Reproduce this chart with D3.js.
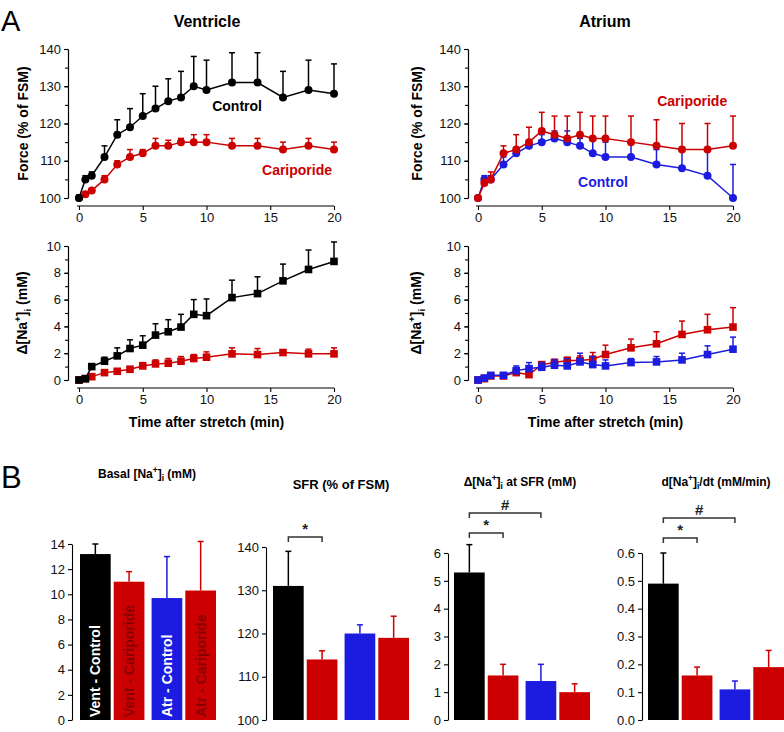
<!DOCTYPE html>
<html><head><meta charset="utf-8">
<script src="https://cdn.jsdelivr.net/npm/d3@7"></script>
<style>
body{margin:0;background:#fff}
svg{display:block}
text{font-family:"Liberation Sans",Arial,Helvetica,sans-serif}
</style>
</head><body>
<svg id="c" width="784" height="732"></svg>
<script>
// ---------------- DATA ----------------
const time = [0,0.5,1,2,3,4,5,6,7,8,9,10,12,14,16,18,20];

const ventForceControl    = [100,105,106,111,117,119,122,124,126,127,130,129,131,131,127,129,128];
const ventForceControlSem = [0.8,1,1,3,4,5,6,6,6,7,8,8,8,8,7,8,8];
const ventForceCarip      = [100,101,102,105,109,111,112,114,114,115,115,115,114,114,113,114,113];
const ventForceCaripSem   = [0.5,0.5,0.5,1,1,2,1,2,1.5,1,2,2,2,2,2,2,2];

const atrForceControl     = [100,105,105,109,112,114,115,116,115,114,112,111,111,109,108,106,100];
const atrForceControlSem  = [0,1,1,2,1.5,1,2,2,3,2,4,4,4,4,5.5,7,9];
const atrForceCarip       = [100,104,105,112,113,115,118,117,116,117,116,116,115,114,113,113,114];
const atrForceCaripSem    = [0,1,2,2,4,4,5,5,6,6,6,6,7,7,7,7,8];

const ventNaControl       = [0,0.1,1.0,1.4,1.8,2.35,2.6,3.35,3.6,3.95,4.9,4.8,6.15,6.45,7.4,8.25,8.85];
const ventNaControlSem    = [0,0.05,0.1,0.3,0.6,0.65,0.7,0.85,0.9,0.95,1.1,1.25,1.3,1.25,1.25,1.45,1.45];
const ventNaCarip         = [0,0.1,0.25,0.55,0.65,0.8,1.05,1.2,1.25,1.4,1.6,1.7,1.95,1.9,2.05,1.95,1.95];
const ventNaCaripSem      = [0,0.05,0.1,0.1,0.15,0.2,0.25,0.3,0.35,0.35,0.3,0.4,0.45,0.45,0.2,0.35,0.45];

const atrNaControl        = [0,0.15,0.35,0.35,0.7,0.85,0.95,1.1,1.05,1.35,1.15,1.05,1.3,1.35,1.5,1.9,2.3];
const atrNaControlSem     = [0,0.05,0.1,0.05,0.35,0.45,0.35,0.4,0.55,0.65,0.6,0.45,0.3,0.4,0.5,0.65,0.9];
const atrNaCarip          = [0,0.1,0.3,0.3,0.55,0.4,1.15,1.3,1.45,1.45,1.55,1.9,2.4,2.7,3.4,3.75,3.95];
const atrNaCaripSem       = [0,0.05,0.1,0.1,0.25,0.1,0.2,0.25,0.25,0.35,0.5,0.7,0.65,0.9,1.0,1.15,1.45];

const barGroups   = ["Vent","Atr"];
const barConds    = ["Control","Cariporide"];
const barLabels   = ["Vent - Control","Vent - Cariporide","Atr - Control","Atr - Cariporide"];
const basalNa     = [13.2, 11.0, 9.7, 10.3];
const basalNaSem  = [0.8, 0.8, 3.3, 3.9];
const sfr         = [131, 114, 120, 119];
const sfrSem      = [8, 2, 2, 5];
const naAtSfr     = [5.3, 1.6, 1.4, 1.0];
const naAtSfrSem  = [1.0, 0.4, 0.6, 0.3];
const dNaDt       = [0.49, 0.16, 0.11, 0.19];
const dNaDtSem    = [0.11, 0.03, 0.03, 0.06];

const xTicks      = [0,5,10,15,20];

// ---------------- STYLE ----------------
const BLACK = "#000000", RED = "#cc0000", BLUE = "#1c1ce0", DARKRED = "#8a0000";
const svg = d3.select("#c");

function rich(sel, parts, size){
  const t = sel.append("text").attr("font-size", size);
  let shift = 0;
  parts.forEach(p => {
    const target = p.sup ? -size*0.4 : p.sub ? size*0.28 : 0;
    const ts = t.append("tspan").text(p.t).attr("dy", target - shift);
    if (p.sup || p.sub) ts.attr("font-size", size*0.7);
    shift = target;
  });
  return t;
}

function styleAxis(g){
  g.selectAll("path.domain").attr("stroke", "#000").attr("stroke-width", 1.1);
  g.selectAll(".tick line").attr("stroke", "#000").attr("stroke-width", 1.1);
  g.selectAll(".tick text").attr("font-size", 13).attr("fill", "#111")
    .attr("font-family", '"Liberation Sans",Arial,sans-serif');
}

function linePanel(o){
  const x = d3.scaleLinear().domain([0,20]).range([o.x0, o.x1]);
  const y = d3.scaleLinear().domain(o.dom).range([o.yBot, o.yTop]);

  const gm = svg.append("g").attr("transform", `translate(${o.axisX},0)`)
    .call(d3.axisLeft(y).tickValues(d3.range(o.dom[0], o.dom[1]+1e-9, o.minor)).tickSize(3).tickSizeOuter(0).tickFormat(""));
  styleAxis(gm);
  const gy = svg.append("g").attr("transform", `translate(${o.axisX},0)`)
    .call(d3.axisLeft(y).tickValues(d3.range(o.dom[0], o.dom[1]+1e-9, o.major)).tickSize(4).tickSizeOuter(0));
  styleAxis(gy);
  const gx = svg.append("g").attr("transform", `translate(0,${o.axisY})`)
    .call(d3.axisBottom(x).tickValues(xTicks).tickSize(4).tickSizeOuter(0));
  styleAxis(gx);
  gx.select("path.domain").attr("d", `M${o.x0-2},0H${o.x1}`);

  o.series.forEach(s => {
    const g = svg.append("g");
    const pts = time.map((t,i)=>({t, v:s.vals[i], e:s.sem[i]}));
    pts.forEach(p => {
      if (p.e <= 0) return;
      const cx = x(p.t), y0 = y(p.v), y1 = y(p.v + p.e);
      g.append("line").attr("x1",cx).attr("x2",cx).attr("y1",y0).attr("y2",y1)
        .attr("stroke", s.color).attr("stroke-width", 1.5);
      g.append("line").attr("x1",cx-3).attr("x2",cx+3).attr("y1",y1).attr("y2",y1)
        .attr("stroke", s.color).attr("stroke-width", 1.5);
    });
    g.append("path").datum(pts)
      .attr("d", d3.line().x(d=>x(d.t)).y(d=>y(d.v)))
      .attr("fill","none").attr("stroke", s.color).attr("stroke-width", 1.5);
    if (s.shape === "circle") {
      g.selectAll("circle").data(pts).join("circle")
        .attr("cx", d=>x(d.t)).attr("cy", d=>y(d.v)).attr("r", 4).attr("fill", s.color);
    } else {
      g.selectAll("rect").data(pts).join("rect")
        .attr("x", d=>x(d.t)-3.8).attr("y", d=>y(d.v)-3.8).attr("width", 7.6).attr("height", 7.6).attr("fill", s.color);
    }
  });

  (o.notes||[]).forEach(n => {
    svg.append("text").attr("x", x(n.t)).attr("y", y(n.v)).attr("text-anchor","middle")
      .attr("font-size", 14).attr("font-weight","bold").attr("fill", n.color).text(n.text);
  });

  const gl = svg.append("g").attr("transform", `translate(${o.labelX},${(o.yTop+o.yBot)/2}) rotate(-90)`);
  rich(gl, o.ylabel, 14).attr("text-anchor","middle").attr("font-weight","bold").attr("dy","0.35em");
  if (o.xTitle) {
    svg.append("text").attr("x", (o.x0+o.x1)/2).attr("y", o.axisY+39).attr("text-anchor","middle")
      .attr("font-size",14).attr("font-weight","bold").text("Time after stretch (min)");
  }
}

const forceLabel = [{t:"Force (% of FSM)"}];
const naLabel = [{t:"Δ[Na"},{t:"+",sup:true},{t:"]"},{t:"i",sub:true},{t:" (mM)"}];

linePanel({x0:79,x1:334,yTop:49,yBot:198,axisX:68,axisY:206,dom:[100,140],major:10,minor:5,labelX:28,
  ylabel:forceLabel,
  series:[{vals:ventForceCarip,sem:ventForceCaripSem,color:RED,shape:"circle"},
          {vals:ventForceControl,sem:ventForceControlSem,color:BLACK,shape:"circle"}],
  notes:[{t:12.4,v:123.3,text:"Control",color:BLACK},{t:17.1,v:106.3,text:"Cariporide",color:RED}]});
linePanel({x0:478,x1:733,yTop:49,yBot:198,axisX:468,axisY:206,dom:[100,140],major:10,minor:5,labelX:422,
  ylabel:forceLabel,
  series:[{vals:atrForceControl,sem:atrForceControlSem,color:BLUE,shape:"circle"},
          {vals:atrForceCarip,sem:atrForceCaripSem,color:RED,shape:"circle"}],
  notes:[{t:16.8,v:124.6,text:"Cariporide",color:RED},{t:9.8,v:103.0,text:"Control",color:BLUE}]});
linePanel({x0:79,x1:334,yTop:246,yBot:380,axisX:68,axisY:388,dom:[0,10],major:2,minor:1,labelX:27,xTitle:true,
  ylabel:naLabel,
  series:[{vals:ventNaCarip,sem:ventNaCaripSem,color:RED,shape:"square"},
          {vals:ventNaControl,sem:ventNaControlSem,color:BLACK,shape:"square"}]});
linePanel({x0:478,x1:733,yTop:246,yBot:380,axisX:468,axisY:388,dom:[0,10],major:2,minor:1,labelX:421,xTitle:true,
  ylabel:naLabel,
  series:[{vals:atrNaCarip,sem:atrNaCaripSem,color:RED,shape:"square"},
          {vals:atrNaControl,sem:atrNaControlSem,color:BLUE,shape:"square"}]});

svg.append("text").attr("x",207).attr("y",27).attr("text-anchor","middle").attr("font-size",16).attr("font-weight","bold").text("Ventricle");
svg.append("text").attr("x",605).attr("y",27).attr("text-anchor","middle").attr("font-size",16).attr("font-weight","bold").text("Atrium");
svg.append("text").attr("x",1).attr("y",31).attr("font-size",29).text("A");
svg.append("text").attr("x",1).attr("y",488).attr("font-size",31).text("B");

// ---------------- BARS ----------------
const barColors = [BLACK, RED, BLUE, RED];
const barTextColors = ["#ffffff", DARKRED, "#ffffff", DARKRED];

function barPanel(o){
  const y = d3.scaleLinear().domain(o.dom).range([720, o.yTop]);
  const outer = d3.scaleBand().domain(barGroups).range([o.x0, o.x0+136]).paddingInner(0.1);
  const inner = d3.scaleBand().domain(barConds).range([0, outer.bandwidth()]).paddingInner(0.09);
  const data = o.vals.map((v,i)=>({v, e:o.sem[i], g:barGroups[Math.floor(i/2)], c:barConds[i%2], i}));
  const bx = d => outer(d.g) + inner(d.c);
  const bw = inner.bandwidth();
  const cx = i => bx(data[i]) + bw/2;

  data.forEach(d => {
    const xc = bx(d) + bw/2, y1 = y(d.v + d.e);
    svg.append("line").attr("x1",xc).attr("x2",xc).attr("y1",y(d.v)).attr("y2",y1).attr("stroke",barColors[d.i]).attr("stroke-width",1.5);
    svg.append("line").attr("x1",xc-3).attr("x2",xc+3).attr("y1",y1).attr("y2",y1).attr("stroke",barColors[d.i]).attr("stroke-width",1.5);
  });
  svg.append("g").selectAll("rect").data(data).join("rect")
    .attr("x", bx).attr("width", bw).attr("y", d=>y(d.v)).attr("height", d=>720 - y(d.v))
    .attr("fill", d=>barColors[d.i]);

  const ga = svg.append("g").attr("transform", `translate(${o.axisX},0)`)
    .call(d3.axisLeft(y).tickValues(d3.range(o.dom[0], o.dom[1]+1e-9, o.step)).tickSize(4).tickSizeOuter(0).tickFormat(o.fmt));
  styleAxis(ga);

  if (o.barText) {
    data.forEach(d => {
      svg.append("text").attr("transform", `translate(${bx(d)+bw/2},717) rotate(-90)`)
        .attr("dy","0.36em").attr("font-size",14).attr("font-weight","bold")
        .attr("fill", barTextColors[d.i]).text(barLabels[d.i]);
    });
  }

  (o.brackets||[]).forEach(b => {
    const xa = cx(b.a), xb = cx(b.b);
    svg.append("path").attr("d", `M${xa},${b.y+5}V${b.y}H${xb}V${b.y+5}`)
      .attr("fill","none").attr("stroke","#333").attr("stroke-width",1.5);
    svg.append("text").attr("x",(xa+xb)/2).attr("y", b.y-3).attr("text-anchor","middle")
      .attr("font-size",15).attr("font-weight","bold").attr("fill","#222").text(b.label);
  });

  const gt = svg.append("g").attr("transform", `translate(${o.titleX},${o.titleY})`);
  rich(gt, o.title, o.titleSize).attr("text-anchor","middle").attr("font-weight","bold");
}

barPanel({axisX:72, x0:80, yTop:544, dom:[0,14], step:2, fmt:d3.format("d"), vals:basalNa, sem:basalNaSem, barText:true,
  title:[{t:"Basal [Na"},{t:"+",sup:true},{t:"]"},{t:"i",sub:true},{t:" (mM)"}], titleX:147, titleY:478, titleSize:12});
barPanel({axisX:266, x0:273, yTop:547, dom:[100,140], step:10, fmt:d3.format("d"), vals:sfr, sem:sfrSem,
  brackets:[{a:0,b:1,y:537,label:"*"}],
  title:[{t:"SFR (% of FSM)"}], titleX:341, titleY:489, titleSize:13});
barPanel({axisX:448, x0:454, yTop:553, dom:[0,6], step:1, fmt:d3.format("d"), vals:naAtSfr, sem:naAtSfrSem,
  brackets:[{a:0,b:1,y:533,label:"*"},{a:0,b:2,y:513,label:"#"}],
  title:[{t:"Δ[Na"},{t:"+",sup:true},{t:"]"},{t:"i",sub:true},{t:" at SFR (mM)"}], titleX:520, titleY:486, titleSize:12});
barPanel({axisX:642, x0:648, yTop:553, dom:[0,0.6], step:0.1, fmt:d3.format(".1f"), vals:dNaDt, sem:dNaDtSem,
  brackets:[{a:0,b:1,y:538,label:"*"},{a:0,b:2,y:518,label:"#"}],
  title:[{t:"d[Na"},{t:"+",sup:true},{t:"]"},{t:"i",sub:true},{t:"/dt (mM/min)"}], titleX:716, titleY:486, titleSize:12});
</script>
</body></html>
